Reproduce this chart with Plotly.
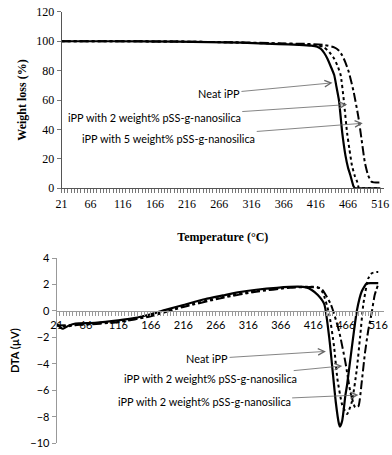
import plotly.graph_objects as go

# --- TGA (top panel) ---
tga_neat_t = [21, 100, 200, 300, 358, 390, 409, 418, 424, 429, 434, 439, 444.5, 448, 452, 457, 462, 466, 469.5, 474.5, 477, 490, 516]
tga_neat_w = [100, 100, 99.7, 99, 98, 97.6, 97, 96.2, 94.7, 92, 88.1, 83, 77, 69, 59.5, 37.6, 22.2, 14, 9, 1.3, 0, 0, 0]

tga_2pct_t = [21, 100, 200, 300, 358, 400, 420, 429, 437, 444.5, 450, 454.5, 459.5, 464.5, 468, 472, 476, 480, 483, 490, 516]
tga_2pct_w = [100, 100, 99.8, 99.1, 98.3, 97.8, 97.2, 95.8, 92.5, 88.1, 83, 77, 59.5, 37.6, 27, 15.6, 9, 4.6, 0, 0, 0]

tga_5pct_t = [21, 100, 200, 300, 358, 400, 430, 444.5, 452, 457, 462, 467, 474.5, 482, 487, 492, 497, 502, 506, 516]
tga_5pct_w = [100, 100, 99.8, 99.2, 98.6, 98.2, 97.4, 95.8, 93.5, 90.3, 85.5, 79.3, 66, 48.6, 33.2, 17.8, 9, 4.6, 4, 4]

# --- DTA (bottom panel) ---
dta_neat_t = [21, 30, 40, 50, 80, 116, 140, 166, 190, 216, 250, 277, 300, 328, 360, 393, 405, 413, 423, 433, 440.5, 445.5, 450.5, 455.5, 457, 460.5, 465.5, 468, 475.5, 483, 490.5, 498, 505, 516]
dta_neat_v = [-1.0, -1.35, -1.1, -0.95, -0.9, -0.72, -0.55, -0.25, 0.1, 0.45, 0.9, 1.17, 1.4, 1.6, 1.75, 1.83, 1.78, 1.6, 1.2, 0.5, -2.0, -4.4, -6.85, -8.55, -8.75, -8.3, -6.35, -5.6, -2.7, 0.0, 1.47, 2.07, 2.1, 2.1]

dta_2pct_t = [21, 40, 60, 116, 166, 216, 277, 328, 380, 410, 422, 430.5, 440.5, 448, 453, 460.5, 468, 475.5, 483, 488, 493, 500.5, 506, 513, 516]
dta_2pct_v = [-1.1, -1.15, -1.0, -0.8, -0.35, 0.35, 1.05, 1.5, 1.8, 1.82, 1.8, 1.4, -0.25, -2.7, -5.1, -7.1, -7.8, -6.85, -4.4, -2.0, 0.5, 2.44, 2.85, 2.95, 2.95]

dta_5pct_t = [21, 60, 116, 166, 216, 277, 328, 380, 413, 428, 443, 455.5, 465.5, 473, 480.5, 485.5, 490.5, 495.5, 500.5, 505.5, 510.5, 515.5]
dta_5pct_v = [-1.1, -1.05, -0.85, -0.4, 0.3, 1.0, 1.45, 1.75, 1.8, 1.7, 0.5, -1.5, -3.9, -6.1, -7.3, -7.2, -5.4, -3.2, -1.5, -0.25, 1.2, 1.95]

x_tick_labels = [21, 66, 116, 166, 216, 266, 316, 366, 416, 466, 516]
x_minor_step = 5

SERIF = "Liberation Serif"
SANS = "Lato"

tickvals = list(range(x_tick_labels[0], x_tick_labels[-1] + 1, x_minor_step))
ticktext = [str(v) if v in x_tick_labels else "" for v in tickvals]

fig = go.Figure()

styles = [
    ("solid", 2.2),
    ("dot", 2),
    ("dashdot", 2),
]

for (t, w), (dash, lw) in zip(
    [(tga_5pct_t, tga_5pct_w), (tga_2pct_t, tga_2pct_w), (tga_neat_t, tga_neat_w)],
    [styles[2], styles[1], styles[0]],
):
    fig.add_trace(
        go.Scatter(
            x=t, y=w, mode="lines", xaxis="x", yaxis="y",
            line=dict(color="black", width=lw, dash=dash, shape="spline", smoothing=0.5),
            showlegend=False, hoverinfo="skip",
        )
    )

for (t, v), (dash, lw) in zip(
    [(dta_5pct_t, dta_5pct_v), (dta_2pct_t, dta_2pct_v), (dta_neat_t, dta_neat_v)],
    [styles[2], styles[1], styles[0]],
):
    fig.add_trace(
        go.Scatter(
            x=t, y=v, mode="lines", xaxis="x2", yaxis="y2",
            line=dict(color="black", width=lw, dash=dash, shape="spline", smoothing=0.5),
            showlegend=False, hoverinfo="skip",
        )
    )

W, H = 392, 455

fig.update_layout(
    width=W,
    height=H,
    margin=dict(l=0, r=0, t=0, b=0),
    plot_bgcolor="white",
    paper_bgcolor="white",
    xaxis=dict(
        domain=[57 / W, 388 / W],
        range=[21, 522],
        anchor="y",
        tickmode="array",
        tickvals=tickvals,
        ticktext=ticktext,
        ticks="outside",
        ticklen=4,
        tickcolor="#777",
        showline=True,
        linecolor="#555",
        linewidth=1,
        showgrid=False,
        zeroline=False,
        tickfont=dict(family=SERIF, size=12, color="black"),
        title=dict(
            text="<b>Temperature (°C)</b>",
            font=dict(family=SERIF, size=12, color="black"),
            standoff=22,
        ),
    ),
    yaxis=dict(
        domain=[1 - 187 / H, 1 - 5 / H],
        range=[0, 120],
        anchor="x",
        tickvals=[0, 20, 40, 60, 80, 100, 120],
        ticks="outside",
        ticklen=4,
        tickcolor="#777",
        showline=True,
        linecolor="#555",
        linewidth=1,
        showgrid=False,
        zeroline=False,
        tickfont=dict(family=SERIF, size=12, color="black"),
        title=dict(
            text="<b>Weight loss (%)</b>",
            font=dict(family=SERIF, size=12, color="black"),
            standoff=6,
        ),
    ),
    xaxis2=dict(
        domain=[52 / W, 388 / W],
        range=[21, 525],
        anchor="free",
        position=1 - 313.3 / H,
        tickmode="array",
        tickvals=tickvals,
        ticktext=ticktext,
        ticks="outside",
        ticklen=4,
        tickcolor="#999",
        showline=True,
        linecolor="#999",
        linewidth=1,
        showgrid=False,
        zeroline=False,
        tickfont=dict(family=SANS, size=11, color="black"),
    ),
    yaxis2=dict(
        domain=[1 - 450 / H, 1 - 259 / H],
        range=[-10, 4],
        anchor="x2",
        tickvals=[-10, -8, -6, -4, -2, 0, 2, 4],
        ticks="outside",
        ticklen=4,
        tickcolor="#999",
        showline=True,
        linecolor="#999",
        linewidth=1,
        showgrid=False,
        zeroline=False,
        tickfont=dict(family=SANS, size=11, color="black"),
        title=dict(
            text="<b>DTA (µV)</b>",
            font=dict(family=SANS, size=11, color="black"),
            standoff=8,
        ),
    ),
)

# arrow labels: (text, text x, text y, head x, head y, axis suffix)
labels = [
    ("Neat iPP", 265.5, 64.4, 441.8, 71.7, ""),
    ("iPP with 2 weight% pSS-g-nanosilica", 165, 48.2, 464.5, 56.9, ""),
    ("iPP with 5 weight% pSS-g-nanosilica", 187.5, 34.0, 488.8, 44.2, ""),
    ("Neat iPP", 252.5, -3.62, 435.4, -3.06, "2"),
    ("iPP with 2 weight% pSS-g-nanosilica", 258.5, -5.12, 460.5, -4.16, "2"),
    ("iPP with 2 weight% pSS-g-nanosilica", 248, -6.87, 485.5, -6.36, "2"),
]
for text, tx, ty, hx, hy, ax_id in labels:
    fig.add_annotation(
        text=text,
        x=hx, y=hy, ax=tx, ay=ty,
        xref="x" + ax_id, yref="y" + ax_id,
        axref="x" + ax_id, ayref="y" + ax_id,
        showarrow=True,
        arrowhead=5,
        arrowsize=1.6,
        arrowwidth=0.8,
        arrowcolor="#666",
        standoff=0,
        font=dict(family=SANS, size=10.9, color="black"),
    )

# drop the browser's default page margin so the 392x455 figure fills the window
fig.write_html(
    "out.html",
    config={"displayModeBar": False},
    post_script="document.body.style.margin = '0';",
)
